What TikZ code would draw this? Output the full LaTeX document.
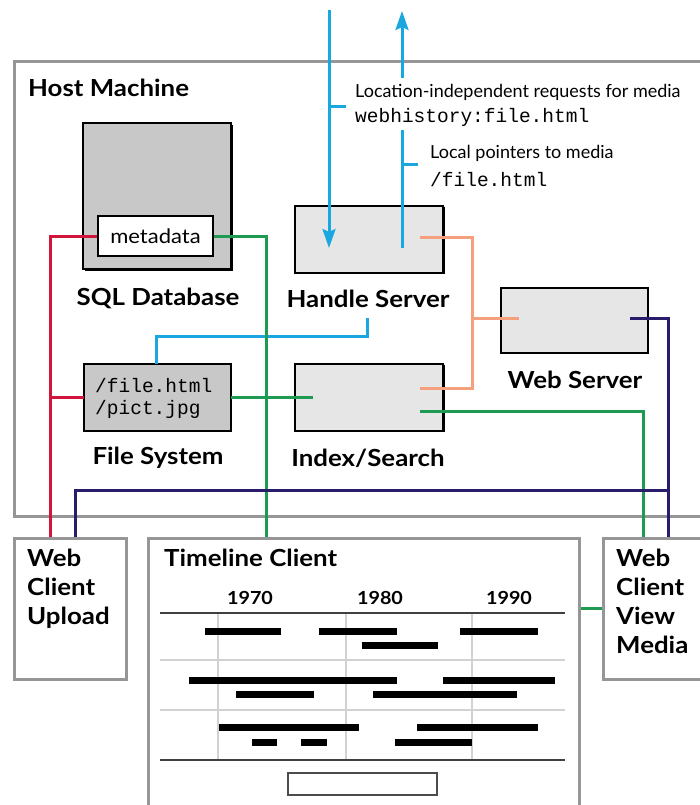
\documentclass[tikz,border=0pt]{standalone}
\usepackage{fontspec}
\setmainfont{Lato}
\newfontfamily\lblfont{Lato}[FakeStretch=1.1]
\newfontfamily\monofont{Liberation Mono}
\usetikzlibrary{shadows,arrows.meta}
\definecolor{cblue}{RGB}{26,167,224}
\definecolor{corange}{RGB}{244,160,124}
\definecolor{cgreen}{RGB}{30,154,82}
\definecolor{cred}{RGB}{208,20,60}
\definecolor{cnavy}{RGB}{43,27,107}
\definecolor{cframe}{RGB}{150,150,150}
\definecolor{cdark}{RGB}{200,200,200}
\definecolor{clight}{RGB}{230,230,230}
\definecolor{cgrid}{RGB}{210,210,210}
\tikzset{
  frame/.style={draw=cframe, line width=3pt, fill=white},
  srvbox/.style={draw=black, line width=2pt, inner sep=0pt, outer sep=0pt,
    drop shadow={shadow xshift=1.8pt, shadow yshift=-1.8pt, fill=black, opacity=1}},
  darkbox/.style={srvbox, fill=cdark},
  lightbox/.style={srvbox, fill=clight},
  metabox/.style={draw=black, line width=1.8pt, fill=white, inner sep=0pt,
    minimum width=115pt, minimum height=40pt, font=\lblfont\fontsize{20}{22}\selectfont},
  blabel/.style={font=\lblfont\bfseries\fontsize{23.5}{24}\selectfont},
  clabel/.style={font=\lblfont\bfseries\fontsize{23.5}{29}\selectfont, align=left, anchor=north west, inner sep=0pt},
  note/.style={font=\fontsize{18}{20}\selectfont, anchor=west, inner sep=0pt},
  mono/.style={font=\monofont\fontsize{19.5}{22}\selectfont, anchor=west, inner sep=0pt},
  conn/.style={line width=3pt},
  tip/.style={-{Stealth[width=13pt,length=19pt,inset=3pt]}},
  bar/.style={line width=7pt},
  year/.style={font=\lblfont\bfseries\fontsize{18}{20}\selectfont},
  gridv/.style={draw=cgrid, line width=1.5pt},
  gridh/.style={draw=cgrid, line width=2.5pt},
  rule/.style={draw=black!75, line width=2.5pt},
}
\begin{document}
\begin{tikzpicture}[x=1pt,y=-1pt]
\useasboundingbox (0,0) rectangle (700,805);
\fill[white] (0,0) rectangle (700,805);

% Host machine frame
\node[frame, minimum width=700pt, minimum height=455pt, anchor=north west] (host) at (13,60) {};
\node[blabel, anchor=west, inner sep=0pt] (hosttitle) at (28,88) {Host Machine};

% Boxes
\node[darkbox, minimum width=148pt, minimum height=146pt] (sql) at (157,196) {};
\node[metabox] (meta) at (155.5,236) {metadata};
\node[blabel] (sqllbl) at (158,298) {SQL Database};

\node[lightbox, minimum width=148pt, minimum height=67pt] (handle) at (369,239) {};
\node[blabel] (handlelbl) at (368,299) {Handle Server};

\node[lightbox, minimum width=147pt, minimum height=65pt] (web) at (574,320) {};
\node[blabel] (weblbl) at (575,380) {Web Server};

\node[darkbox, minimum width=147pt, minimum height=67pt] (fs) at (157,397) {};
\node[mono] (fs1) at (95,386) {/file.html};
\node[mono] (fs2) at (95,409) {/pict.jpg};
\node[blabel] (fslbl) at (158,458) {File System};

\node[lightbox, minimum width=148pt, minimum height=67pt] (index) at (369,397) {};
\node[blabel] (indexlbl) at (368,458) {Index/Search};

% Client boxes
\node[frame, minimum width=112pt, minimum height=141pt, anchor=north west] (upload) at (13,537) {};
\node[clabel] (uploadlbl) at (27,549) {Web\\Client\\Upload};
\node[frame, minimum width=431pt, minimum height=290pt, anchor=north west] (timeline) at (147,537) {};
\node[clabel] (timelinelbl) at (164,549) {Timeline Client};
\node[frame, minimum width=120pt, minimum height=141pt, anchor=north west] (view) at (602,537) {};
\node[clabel] (viewlbl) at (616,549) {Web\\Client\\View\\Media};

% Blue request arrows
\coordinate (reqtop) at (329,10);
\coordinate (reqend) at (329,248);
\draw[conn, cblue, tip] (reqtop) -- (reqend);
\draw[conn, cblue] (329,107) -- (346,107);
\coordinate (ptrtop) at (402,11);
\coordinate (ptrgap) at (402,78);
\draw[conn, cblue, tip] (ptrgap) -- (ptrtop);
\draw[conn, cblue] (402,248) -- (402,130);
\draw[conn, cblue] (402,165) -- (418,165);
\node[note] (req1) at (355,92) {Location-independent requests for media};
\node[mono] (req2) at (355,117) {webhistory:file.html};
\node[note] (ptr1) at (430,153) {Local pointers to media};
\node[mono] (ptr2) at (430,180) {/file.html};

% Blue handle -> file system
\draw[conn, cblue] (367,318) |- (156,336) -- (fs.north -| 156,0);

% Orange
\draw[conn, corange] (420,237) -| (472,388) -- (420,388);
\draw[conn, corange] (472,318) -- (519,318);

% Green
\draw[conn, cgreen] (meta.east) -| (timeline.north -| 266,0);
\draw[conn, cgreen] (fs.east) -- (313,397);
\draw[conn, cgreen] (420,411) -| (view.north -| 643,0);
\draw[conn, cgreen] (timeline.east |- 0,608) -- (view.west |- 0,608);

% Red
\draw[conn, cred] (meta.west) -| (upload.north -| 50,0);
\draw[conn, cred] (50,397) -- (fs.west);

% Navy
\draw[conn, cnavy] (630,318) -| (view.north -| 668,0);
\draw[conn, cnavy] (668,490) -| (upload.north -| 75,0);

% Timeline chart
\draw[gridh] (160,660) -- (565,660);
\draw[gridh] (160,710) -- (565,710);
\foreach \x in {218,346,472} \draw[gridv] (\x,613) -- (\x,760);
\draw[rule] (160,613) -- (565,613);
\draw[rule] (160,760) -- (565,760);
\node[year] (y70) at (250,598) {1970};
\node[year] (y80) at (380,598) {1980};
\node[year] (y90) at (509,598) {1990};
\foreach \a/\b/\y in {205/281/631, 319/397/631, 460/538/631, 362/438/645,
  189/397/680, 443/555/680, 236/314/694, 373/517/694,
  219/359/727, 417/538/727, 252/277/742, 301/327/742, 395/472/742}
  \draw[bar] (\a,\y) -- (\b,\y);
\node[draw=black!70, line width=2pt, fill=white, minimum width=149pt, minimum height=22pt, inner sep=0pt] (scroll) at (362.5,784) {};
\end{tikzpicture}
\end{document}
